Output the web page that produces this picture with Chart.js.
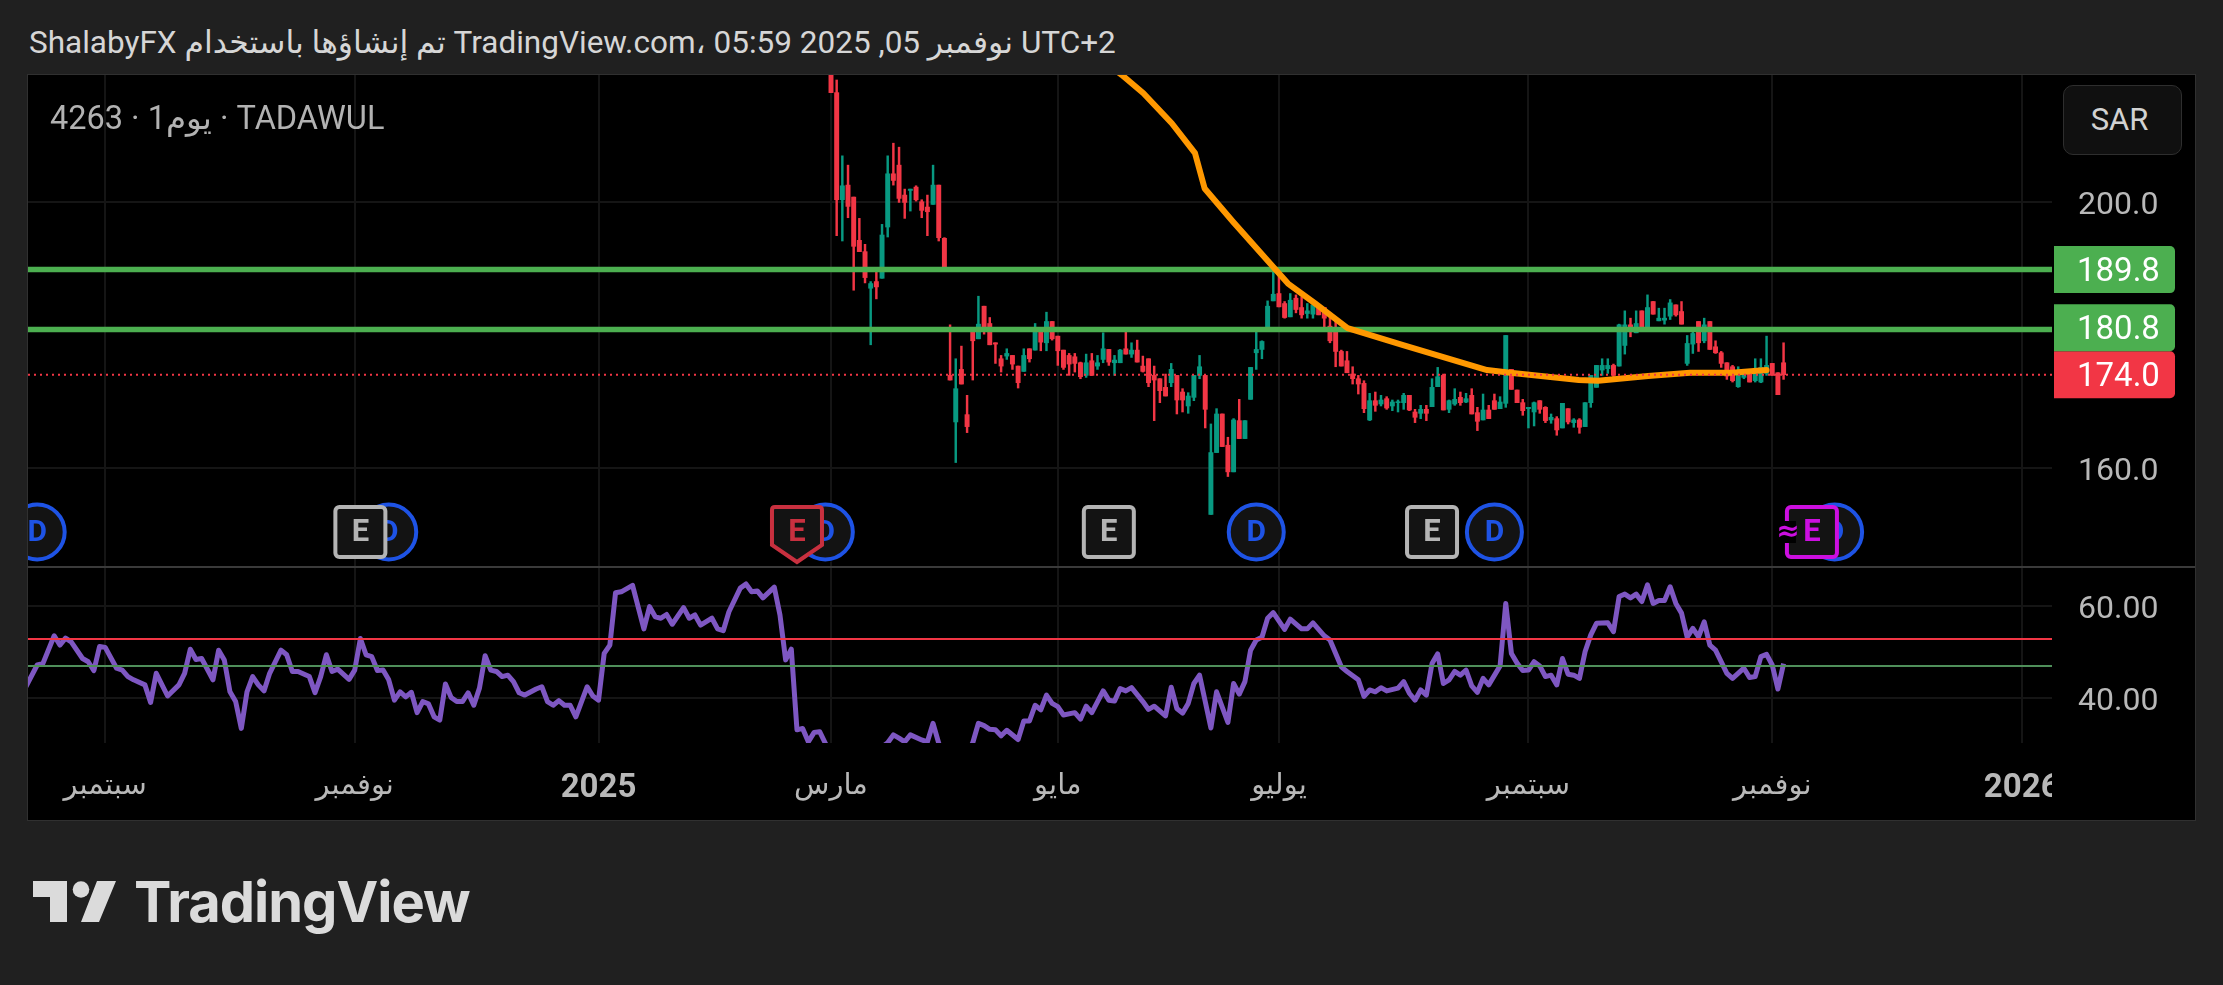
<!DOCTYPE html>
<html lang="ar">
<head>
<meta charset="utf-8">
<title>4263 TADAWUL</title>
<script src="https://cdn.jsdelivr.net/npm/chart.js@4/dist/chart.umd.js"></script>
<style>
  html, body { margin: 0; width: 2223px; height: 985px; overflow: hidden; background: #202020; font-family: Roboto, "DejaVu Sans", sans-serif; }
  #frame { position: absolute; left: 27px; top: 74px; width: 2167px; height: 745px; border: 1px solid #303030; background: #000; }
  canvas { position: absolute; left: 28px; }
  #priceChart { top: 75px; }
  #rsiChart { top: 567px; }
  #separator { position: absolute; left: 28px; top: 566px; width: 2167px; height: 2px; background: #3a3a3a; }
  #title { position: absolute; left: 29px; top: 24px; color: #d6d6d6; font-size: 31.5px; line-height: 38px; white-space: nowrap; }
  #symbol { position: absolute; left: 50px; top: 99px; color: #b2b2b2; font-size: 32.5px; line-height: 38px; white-space: nowrap; }
  #currency { position: absolute; left: 2063px; top: 85px; width: 119px; height: 70px; box-sizing: border-box; border: 1px solid #2e2e2e; border-radius: 10px; background: #101010; color: #d2d2d2; font-size: 31px; line-height: 68px; text-align: center; padding-right: 6px; }
  #logo { position: absolute; left: 33px; top: 881px; }
  #brand { position: absolute; left: 134px; top: 868px; color: #dbdbdb; font-family: Inter, Roboto, sans-serif; font-weight: 700; font-size: 56px; line-height: 68px; letter-spacing: -1px; }
</style>
</head>
<body>
<div id="frame"></div>
<canvas id="priceChart" width="2167" height="492"></canvas>
<canvas id="rsiChart" width="2167" height="253"></canvas>
<div id="separator"></div>
<div id="title" dir="rtl">UTC+2 نوفمبر 05, 2025 05:59 ،TradingView.com تم إنشاؤها باستخدام ShalabyFX</div>
<div id="symbol" dir="rtl">TADAWUL · يوم1 · 4263</div>
<div id="currency">SAR</div>
<svg id="logo" width="84" height="41" viewBox="0 0 84 41">
  <path fill="#dbdbdb" d="M0 0H34V41H17V16H0Z M64 0H83L66 41H48Z"/>
  <circle fill="#dbdbdb" cx="48" cy="8.5" r="8.3"/>
</svg>
<div id="brand">TradingView</div>
<script>
// candles, bar 0 is the first one visible under the top edge (1 March 2025)
const opens = [
  224,216.4,200.3,202.5,200.7,194.2,192.5,187.0,188.0,188.5,
  196.2,204.2,205.5,201.0,201.7,202.2,200.0,199.2,199.6,202.5,
  194.5,173.9,166.9,174.8,168.0,180.5,179.4,184.3,181.7,178.8,
  176.4,176.8,176.9,175.3,174.5,177.9,177.7,181.0,178.8,182.0,
  179.8,177.7,176.9,176.7,175.8,173.9,176.1,175.3,176.3,177.8,
  175.8,175.8,177.9,177.1,177.7,175.3,176.4,173.9,173.4,172.1,
  172.8,173.9,171.4,169.3,170.6,173.9,173.9,153.0,162.3,168.1,
  163.4,159.4,167.1,164.4,170.3,177.3,177.8,180.7,185.1,186.2,
  184.7,182.7,185.5,
  184.1,183.2,183.1,184.5,184.1,181.3,180.7,177.5,176.1,174.1,
  173.4,172.7,167.2,170.1,169.6,170.4,169.3,169.8,169.8,170.9,
  168.4,168.2,168.8,169.2,172.2,173.9,168.8,169.6,170.6,169.9,
  170.9,168.3,167.2,168.7,170.1,168.9,169.7,174.8,171.7,169.8,
  168.9,168.4,170.1,169.1,167.2,167.4,166.0,168.9,166.8,167.2,
  166.2,169.8,172.1,174.7,174.9,175.4,175.3,178.4,181.5,180.3,
  183.6,181.1,185.0,182.1,182.2,182.8,184.5,183.5,175.7,178.6,
  182.0,179.1,182.0,178.2,177.3,175.8,175.2,172.2,173.6,174.3,
  173.1,172.9,174.2,175.7,174.3,175.8
];
const highs = [
  226,218.3,206.9,205.5,200.7,197.5,193.6,188.0,189.8,196.6,
  206.9,208.8,208.2,201.9,201.9,202.4,200.3,201.0,205.5,202.5,
  194.6,181.5,176.4,178.3,170.9,180.5,185.8,184.3,182.6,178.8,
  176.9,177.9,176.9,175.3,177.9,177.9,181.7,181.0,183.4,182.0,
  179.8,177.7,177.2,177.2,175.9,177.1,177.2,176.9,180.3,177.8,
  176.9,177.8,181.1,178.8,179.2,176.8,176.4,175.3,173.4,174.1,
  175.7,173.9,171.9,171.3,173.9,176.9,173.9,166.6,168.9,168.1,
  164.6,167.4,170.3,167.1,175.1,180.5,179.1,185.1,190.1,188.8,
  185.0,186.2,186.0,
  185.7,184.7,184.7,184.6,184.1,182.7,182.5,177.7,177.5,175.2,
  173.9,173.1,171.2,171.4,170.9,170.7,170.2,170.2,171.2,170.9,
  168.8,169.4,169.4,173.4,175.1,174.1,170.2,171.9,171.4,171.2,
  171.9,169.1,171.1,169.4,171.1,170.7,179.9,174.8,171.7,170.3,
  169.1,169.9,170.1,169.2,168.1,167.7,169.7,168.9,167.4,167.4,
  169.8,173.9,175.4,176.4,176.4,175.6,181.6,183.6,182.5,183.6,
  183.6,186.0,185.0,184.0,184.0,185.3,184.5,185.0,179.9,180.9,
  182.0,182.5,182.0,179.1,177.5,175.8,175.4,175.2,174.4,174.4,
  176.4,176.4,179.8,175.7,174.3,178.8
];
const lows = [
  216.4,194.9,194.1,197.6,186.7,192.5,187.8,178.5,185.4,188.5,
  194.7,202.5,199.9,197.5,198.6,200.1,197.6,194.9,199.6,194.1,
  189.7,173.2,160.8,172.6,165.3,173.2,179.4,180.1,178.5,175.7,
  174.4,176.3,174.8,172.0,174.5,175.9,177.7,177.6,177.6,179.2,
  175.4,174.8,173.9,174.4,173.4,173.6,173.9,174.8,175.8,175.4,
  173.9,175.8,177.1,176.6,175.9,174.4,172.2,167.1,169.8,170.8,
  172.2,168.1,168.4,168.2,170.1,173.4,166.0,153.0,162.3,163.2,
  158.7,159.4,164.4,164.4,170.3,174.8,176.4,180.6,185.1,184.2,
  182.5,182.7,183.3,
  182.5,182.5,182.5,183.0,181.1,178.8,175.2,175.3,174.3,172.6,
  171.1,168.3,167.1,168.5,169.3,168.8,168.6,168.4,168.8,168.6,
  166.8,167.4,167.1,169.2,172.2,168.7,168.3,169.4,169.4,169.8,
  168.1,165.6,167.2,167.4,168.8,168.9,169.1,171.8,169.8,167.9,
  166.0,166.3,168.2,166.8,166.7,164.9,166.0,166.6,166.1,165.2,
  166.2,169.1,172.1,173.9,174.2,173.7,175.3,177.1,179.7,180.3,
  180.8,181.1,183.1,182.1,181.6,182.3,182.8,181.6,175.4,177.2,
  177.5,178.8,177.8,177.2,175.1,173.3,172.9,172.1,173.4,172.9,
  172.9,172.8,173.9,173.9,171.0,173.3
];
const closes = [
  216.4,200.3,202.4,199.3,193.3,192.5,188.6,187.7,187.2,195.0,
  204.2,203.2,200.5,199.9,201.9,200.3,198.7,198.5,202.5,194.6,
  190.2,173.2,171.9,172.6,166.2,179.1,181.6,180.5,178.5,178.6,
  175.3,177.2,175.6,172.8,176.9,176.4,180.7,178.9,182.0,179.4,
  177.6,175.1,175.6,175.7,173.7,175.8,173.9,175.8,177.9,175.9,
  176.2,177.7,177.1,177.7,175.9,174.5,172.8,173.2,171.6,170.8,
  174.8,170.2,170.2,170.8,173.9,175.2,168.8,162.3,168.1,163.2,
  159.4,167.2,164.4,167.1,175.1,177.8,179.0,184.3,186.1,184.2,
  182.6,185.2,183.8,
  183.0,183.6,184.5,183.0,182.5,179.1,177.5,175.3,174.3,173.4,
  172.6,168.9,170.1,169.4,170.2,169.0,169.9,169.9,170.9,168.7,
  167.6,168.8,168.2,172.1,173.7,168.7,170.1,170.3,169.8,170.4,
  168.1,167.0,168.7,167.4,168.8,169.9,179.9,171.8,169.8,168.6,
  169.1,169.8,168.8,167.1,167.6,165.7,169.7,166.9,167.2,166.1,
  169.8,173.9,175.4,175.4,175.4,173.9,181.5,181.5,181.0,181.7,
  180.8,184.1,183.1,182.5,182.5,184.8,183.0,181.6,178.7,180.2,
  178.8,181.5,177.8,177.3,175.7,173.8,173.1,174.3,174.3,172.9,
  174.9,175.1,175.4,173.9,171.0,174.0
];

const maBars = [49,51.3,55.1,60.1,64.2,65.9,70.9,78,80.6,85.4,91.1,100.9,115.7,119.8,131.9,135.3,144.1,151.5,158.9,165];
const maValues = [220.5,219.05,216.3,211.8,207.3,202.0,197.0,190.2,187.7,184.7,181.0,178.45,174.7,174.3,173.2,173.1,173.8,174.3,174.3,174.7];

const rsiBars = [
  -142,-140,-139,-137,-136,-135,-134,-132,-131,-130,-129,-128,-126,-125,-124,-123,-121,-120,-119,-117,
  -115,-114,-113,-112,-111,-109,-108,-107,-106,-105,-104,-103,-102,-101,-100,-99,-97,-96,-95,-94,
  -92,-91,-90,-89,-88,-87,-85,-84,-83,-82,-81,-80,-79,-78,-77,-76,-75,-74,-73,-72,
  -71,-70,-69,-68,-67,-66,-65,-64,-63,-62,-61,-60,-59,-58,-57,-56,-55,-54,-52,-51,
  -50,-49,-48,-47,-46,-45,-43,-42,-41,-40,-39,-38,-37,-35,-33,-32,-31,-30,-29,-28,
  -26,-25,-24,-23,-21,-20,-19,-18,-16,-15,-14,-13,-12,-10,-9,-8,-7,-6,-5,-4,
  -3,-2,-1,0,3,6,10,11,12,13,14,16,17,18,19,20,24,25,26,27,
  28,29,30,31,33,34,35,36,37,38,39,40,41,43,44,45,46,48,49,50,
  51,52,53,55,56,57,59,60,61,62,63,64,65,66,67,68,70,71,72,73,
  74,75,76,77,78,80,81,83,84,85,87,88,90,91,93,94,95,96,97,98,
  100,101,102,103,104,105,106,107,108,109,110,111,112,113,114,115,116,118,119,120,
  121,122,123,124,125,126,127,128,129,130,131,132,133,134,135,137,138,139,140,141,
  142,143,144,145,146,147,148,149,150,151,152,153,154,155,156,158,159,161,162,163,
  164,165,166,167,168
];
const rsiValues = [
  42.5,47.2,47.5,53.5,51.5,53.0,52.2,48.6,47.9,46.0,51.2,51.0,46.5,46.1,44.7,44.0,42.9,39.1,45.4,40.5,
  42.9,45.4,50.6,48.4,48.6,44.0,50.4,48.3,41.4,39.3,33.5,41.4,44.7,42.9,41.6,45.4,50.4,49.4,45.8,45.8,
  44.7,41.2,44.7,49.4,45.8,46.3,44.1,46.1,52.9,49.4,49.0,46.0,46.1,44.0,39.6,41.4,40.3,41.3,36.9,39.3,
  38.8,36.0,35.3,43.1,40.2,39.3,39.3,41.2,38.5,42.2,49.2,46.1,45.8,44.7,45.0,43.6,41.2,40.7,42.0,42.5,
  39.3,38.5,39.5,38.5,38.5,36.0,42.5,40.5,39.6,49.7,51.5,62.8,63.0,64.4,55.0,59.8,57.6,57.3,58.1,56.0,
  59.6,57.3,58.0,55.8,57.3,55.0,54.6,58.7,63.8,64.7,63.0,63.2,61.7,64.0,58.0,48.3,50.6,33.2,33.5,30.6,
  32.6,32.8,30.3,27.4,26.0,26.7,30.4,32.1,31.4,30.6,32.1,31.0,30.6,34.6,30.3,27.4,28.1,30.4,34.6,34.1,
  33.3,33.2,31.9,33.1,31.1,35.1,35.1,38.5,37.5,40.7,38.9,38.2,36.4,36.9,35.5,38.3,36.9,41.6,39.6,39.4,
  42.1,41.6,42.3,39.3,37.6,38.3,36.2,42.4,37.8,36.8,38.9,43.2,45.0,39.3,33.6,41.4,34.8,43.2,40.9,43.6,
  50.4,52.6,53.2,57.3,58.5,54.9,57.1,55.0,55.0,56.3,53.5,52.6,46.8,45.8,44.0,40.4,41.8,41.4,42.3,41.6,
  42.2,43.6,41.1,39.6,41.8,40.7,47.5,49.6,43.2,44.0,45.8,45.0,46.1,42.7,41.3,44.3,42.9,47.0,60.5,49.7,
  47.6,46.0,46.1,47.9,47.0,44.7,45.0,42.9,48.6,45.2,45.0,44.3,50.1,53.7,56.2,56.3,54.4,62.0,62.5,61.7,
  62.5,60.9,64.5,60.5,61.1,61.1,64.1,60.5,58.4,53.2,55.1,53.3,56.5,51.5,50.4,45.4,44.3,46.5,44.5,44.7,
  49.0,49.5,47.2,42.0,47.5
];

// levels and labels
const levelValues = [189.8, 180.8];
const lastPrice = 174.0;
const rsiUpper = 52.8;
const rsiLower = 47.0;
const priceTicks = [200, 160];
const rsiTicks = [60, 40];
const timeTickBars = [-128, -84, -41, 0, 40, 79, 123, 166, 210];
const timeTickLabels = ['سبتمبر', 'نوفمبر', '2025', 'مارس', 'مايو', 'يوليو', 'سبتمبر', 'نوفمبر', '2026'];
const dividendBars = [-140, -78, -1, 75, 117, 177];
const earningsBars = [-83, -6, 49, 106, 173];
const earningsKinds = ['past', 'miss', 'past', 'past', 'next'];

const xMin = -141.62;
const xMax = 215.34;
const RED = '#f23645';
const TEAL = '#089981';
const GREEN = '#4caf50';
const BLUE = '#1e53e5';
const GRID = '#151515';
const TEXT = '#b8b8b8';
const FONT = 'Roboto, "DejaVu Sans", sans-serif';

const candleColors = closes.map((c, i) => c >= opens[i] ? TEAL : RED);

function flatLine(value) {
  return [{x: xMin, y: value}, {x: xMax, y: value}];
}

function timeTickFont(ctx) {
  const label = timeTickLabels[ctx.index];
  const isYear = label && label.startsWith('20');
  return {family: FONT, size: isYear ? 33 : 29, weight: isYear ? 'bold' : 'normal'};
}

function xScale(showLabels) {
  return {
    type: 'linear',
    min: xMin,
    max: xMax,
    offset: false,
    afterBuildTicks: scale => { scale.ticks = timeTickBars.map(v => ({value: v})); },
    afterFit: scale => {
      scale.height = showLabels ? 77 : 0;
      scale.paddingLeft = 0;
      scale.paddingRight = 0;
    },
    grid: {color: GRID, lineWidth: 2, offset: false, drawTicks: false},
    border: {display: false},
    ticks: {
      display: showLabels,
      autoSkip: false,
      maxRotation: 0,
      padding: 26,
      color: TEXT,
      font: timeTickFont,
      callback: value => timeTickLabels[timeTickBars.indexOf(value)]
    }
  };
}

function yScale(tickValues, digits, min, max) {
  return {
    position: 'right',
    min: min,
    max: max,
    afterBuildTicks: scale => { scale.ticks = tickValues.map(v => ({value: v})); },
    afterFit: scale => {
      scale.width = 143;
      scale.paddingTop = 0;
      scale.paddingBottom = 0;
    },
    grid: {color: GRID, lineWidth: 2, drawTicks: false},
    border: {display: false},
    ticks: {padding: 26, labelOffset: 4, color: TEXT, font: {family: FONT, size: 32}, callback: value => value.toFixed(digits)}
  };
}

function roundRightRect(ctx, x, y, w, h, r) {
  ctx.beginPath();
  ctx.roundRect(x, y, w, h, [0, r, r, 0]);
  ctx.fill();
}

// price pills next to the scale, pushed up when they would overlap
const pricePills = {
  id: 'pricePills',
  afterDraw(chart) {
    const ctx = chart.ctx;
    const y = chart.scales.y;
    const h = 47;
    const items = [
      {value: lastPrice, color: RED},
      {value: levelValues[1], color: GREEN},
      {value: levelValues[0], color: GREEN}
    ];
    let limit = Infinity;
    ctx.save();
    items.forEach(item => {
      const top = Math.min(y.getPixelForValue(item.value) - h / 2, limit - h);
      limit = top;
      ctx.fillStyle = item.color;
      roundRightRect(ctx, chart.chartArea.right + 2, top, 121, h, 5);
      ctx.fillStyle = '#fff';
      ctx.font = '33px ' + FONT;
      ctx.textBaseline = 'middle';
      ctx.fillText(item.value.toFixed(1), chart.chartArea.right + 25, top + h / 2 + 3);
    });
    ctx.restore();
  }
};

function drawDividend(ctx, x, y) {
  ctx.beginPath();
  ctx.arc(x, y, 30, 0, Math.PI * 2);
  ctx.fillStyle = '#000';
  ctx.fill();
  ctx.beginPath();
  ctx.arc(x, y, 27.5, 0, Math.PI * 2);
  ctx.fillStyle = '#131313';
  ctx.fill();
  ctx.lineWidth = 4;
  ctx.strokeStyle = BLUE;
  ctx.stroke();
  ctx.fillStyle = BLUE;
  ctx.font = 'bold 30px ' + FONT;
  ctx.fillText('D', x, y + 1);
}

function drawEarnings(ctx, x, y, kind) {
  const color = kind === 'miss' ? '#c8303f' : kind === 'next' ? '#cc0fe0' : '#b4b4b4';
  ctx.beginPath();
  if (kind === 'miss') {
    ctx.moveTo(x - 25, y - 22);
    ctx.quadraticCurveTo(x - 25, y - 25, x - 22, y - 25);
    ctx.lineTo(x + 22, y - 25);
    ctx.quadraticCurveTo(x + 25, y - 25, x + 25, y - 22);
    ctx.lineTo(x + 25, y + 13);
    ctx.lineTo(x, y + 30);
    ctx.lineTo(x - 25, y + 13);
    ctx.closePath();
  } else {
    ctx.roundRect(x - 25, y - 25, 50, 50, 4);
  }
  ctx.fillStyle = '#131313';
  ctx.lineWidth = 4;
  ctx.strokeStyle = color;
  ctx.fill();
  ctx.stroke();
  ctx.fillStyle = color;
  ctx.font = 'bold 31px ' + FONT;
  ctx.fillText('E', x, y + 1);
  if (kind === 'next') {
    ctx.fillStyle = '#000';
    ctx.fillRect(x - 34, y - 11, 18, 22);
    ctx.fillStyle = color;
    ctx.font = 'bold 28px "DejaVu Sans"';
    ctx.fillText('≈', x - 24, y + 1);
  }
}

const eventMarks = {
  id: 'eventMarks',
  afterDatasetsDraw(chart) {
    const ctx = chart.ctx;
    const area = chart.chartArea;
    const y = area.bottom - 35;
    ctx.save();
    ctx.beginPath();
    ctx.rect(area.left, area.top, area.right - area.left, area.bottom - area.top);
    ctx.clip();
    ctx.textAlign = 'center';
    ctx.textBaseline = 'middle';
    dividendBars.forEach(bar => drawDividend(ctx, chart.scales.x.getPixelForValue(bar), y));
    earningsBars.forEach((bar, i) => drawEarnings(ctx, chart.scales.x.getPixelForValue(bar), y, earningsKinds[i]));
    ctx.restore();
  }
};

// the 2026 label is cut by the price scale
const cutTimeAxis = {
  id: 'cutTimeAxis',
  afterDraw(chart) {
    const area = chart.chartArea;
    chart.ctx.fillStyle = '#000';
    chart.ctx.fillRect(area.right, area.bottom, 40, chart.height - area.bottom);
  }
};

new Chart(document.getElementById('priceChart'), {
  type: 'bar',
  data: {
    datasets: [
      {
        label: 'Wicks',
        data: highs.map((h, i) => ({x: i, y: [lows[i], h]})),
        backgroundColor: candleColors,
        grouped: false,
        barThickness: 1.8,
        maxBarThickness: 1.8,
        order: 5
      },
      {
        label: 'Bodies',
        data: opens.map((o, i) => ({x: i, y: [o, closes[i]]})),
        backgroundColor: candleColors,
        grouped: false,
        barThickness: 4.3,
        maxBarThickness: 4.3,
        minBarLength: 1,
        order: 4
      },
      {type: 'line', label: 'Level 1', data: flatLine(levelValues[0]), borderColor: GREEN, borderWidth: 5.5, pointRadius: 0, order: 3},
      {type: 'line', label: 'Level 2', data: flatLine(levelValues[1]), borderColor: GREEN, borderWidth: 5.5, pointRadius: 0, order: 3},
      {
        type: 'line',
        label: 'MA',
        data: maBars.map((b, i) => ({x: b, y: maValues[i]})),
        borderColor: '#ff9800',
        borderWidth: 6,
        borderCapStyle: 'round',
        borderJoinStyle: 'round',
        pointRadius: 0,
        order: 2
      },
      {type: 'line', label: 'Last', data: flatLine(lastPrice), borderColor: RED, borderWidth: 2, borderDash: [2, 4], pointRadius: 0, order: 1}
    ]
  },
  options: {
    responsive: false,
    animation: false,
    devicePixelRatio: 1,
    layout: {padding: 0},
    plugins: {legend: {display: false}, tooltip: {enabled: false}},
    scales: {
      x: xScale(false),
      y: yScale(priceTicks, 1, 145.1, 219.05)
    }
  },
  plugins: [eventMarks, pricePills]
});

new Chart(document.getElementById('rsiChart'), {
  type: 'line',
  data: {
    datasets: [
      {
        label: 'RSI',
        data: rsiBars.map((b, i) => ({x: b, y: rsiValues[i]})),
        borderColor: '#7e57c2',
        borderWidth: 5,
        borderJoinStyle: 'round',
        pointRadius: 0,
        clip: 0,
        order: 2
      },
      {label: 'Upper', data: flatLine(rsiUpper), borderColor: RED, borderWidth: 2, pointRadius: 0, order: 1},
      {label: 'Lower', data: flatLine(rsiLower), borderColor: '#4f8f5a', borderWidth: 2, pointRadius: 0, order: 1}
    ]
  },
  options: {
    responsive: false,
    animation: false,
    devicePixelRatio: 1,
    layout: {padding: 0},
    plugins: {legend: {display: false}, tooltip: {enabled: false}},
    scales: {
      x: xScale(true),
      y: yScale(rsiTicks, 2, 30.35, 68.36)
    }
  },
  plugins: [cutTimeAxis]
});
</script>
</body>
</html>
